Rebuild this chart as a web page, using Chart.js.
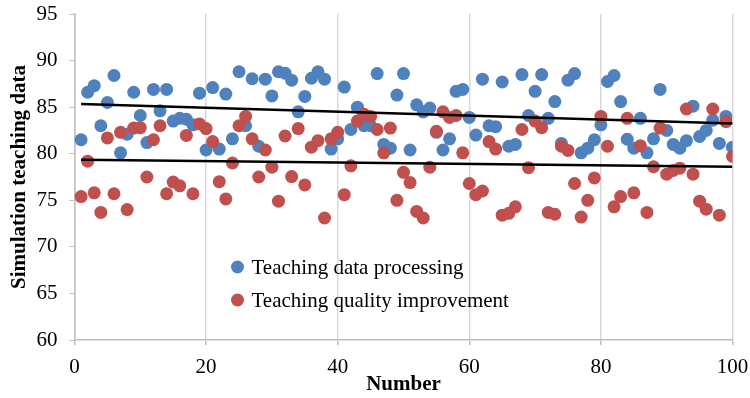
<!DOCTYPE html>
<html>
<head>
<meta charset="utf-8">
<script src="https://cdn.jsdelivr.net/npm/chart.js@4.4.0/dist/chart.umd.min.js"></script>
<style>
html,body{margin:0;padding:0;background:#fff;}
#wrap{width:750px;height:398px;position:relative;}
</style>
</head>
<body>
<div id="wrap"><canvas id="myChart"></canvas></div>
<script>
'use strict';
let seriesNames=['Teaching data processing','Teaching quality improvement'];
let xTicks=[0,20,40,60,80,100];
let yTicks=[60,65,70,75,80,85,90,95];
let dataProcessing=[81.5,86.6,87.3,83.0,85.5,88.4,80.1,82.1,86.6,84.1,
  81.2,86.9,84.6,86.9,83.5,83.8,83.7,83.1,86.5,80.4,
  87.1,80.5,86.4,81.6,88.8,83.0,88.05,80.8,88.0,86.2,
  88.8,88.65,87.9,84.5,86.15,88.1,88.8,88.0,80.5,81.6,
  87.15,82.6,85.0,83.0,83.0,88.6,81.0,80.6,86.3,88.6,
  80.4,85.25,84.5,84.9,82.3,80.4,81.6,86.7,86.9,83.9,
  82.0,88.0,83.0,82.9,87.7,80.8,81.0,88.5,84.1,86.7,
  88.5,83.8,85.6,81.1,87.9,88.6,80.1,80.6,81.5,83.1,
  87.75,88.4,85.6,81.55,80.6,83.8,80.1,81.6,86.9,82.5,
  81.0,80.6,81.4,85.1,81.85,82.5,83.6,81.1,84.0,80.7];
let qualityImprovement=[75.4,79.2,75.8,73.7,81.7,75.7,82.3,74.0,82.75,82.8,
  77.5,81.5,83.0,75.7,76.95,76.55,81.96,75.7,83.2,82.7,
  81.3,77.0,75.15,79.0,83.0,84.0,81.6,77.5,80.4,78.55,
  74.9,81.9,77.55,82.7,76.65,80.7,81.4,73.1,81.6,82.3,
  75.6,78.7,83.5,84.25,84.0,82.6,80.1,82.75,75.0,78.0,
  76.9,73.8,73.1,78.55,82.4,84.5,83.9,84.1,80.1,76.8,
  75.6,76.0,81.3,80.5,73.4,73.6,74.3,82.6,78.5,83.5,
  82.8,73.7,73.5,80.8,80.35,76.8,73.2,75.0,77.4,84.0,
  80.8,74.3,75.4,83.8,75.8,80.85,73.7,78.6,82.75,77.8,
  78.2,78.45,84.8,77.8,74.9,74.05,84.8,73.4,83.45,79.7];
let colors=['#4F81BD','#C0504D'];

function toPoints(values){
  return values.map(function(v,i){ return {x:i+1,y:v}; });
}
// least squares trend line, like excel's linear trendline
function trendLine(values){
  let n=values.length,sx=0,sy=0,sxx=0,sxy=0;
  for(let i=0;i<n;i++){
    let x=i+1;
    sx+=x; sy+=values[i]; sxx+=x*x; sxy+=x*values[i];
  }
  let b=(n*sxy-sx*sy)/(n*sxx-sx*sx);
  let a=(sy-b*sx)/n;
  return [{x:1,y:a+b},{x:n,y:a+b*n}];
}

const serif='"Liberation Serif", "Times New Roman", serif';

const insideLegend={
  id:'insideLegend',
  afterDraw(chart){
    let ctx=chart.ctx;
    let area=chart.chartArea;
    ctx.save();
    ctx.font='21px '+serif;
    ctx.textBaseline='middle';
    seriesNames.forEach(function(name,i){
      let cx=area.left+163;
      let cy=area.top+253+i*33;
      ctx.beginPath();
      ctx.arc(cx,cy,6.5,0,Math.PI*2);
      ctx.fillStyle=colors[i];
      ctx.fill();
      ctx.fillStyle='#000';
      ctx.fillText(name,cx+14,cy+1);
    });
    ctx.restore();
  }
};

new Chart(document.getElementById('myChart'),{
  type:'scatter',
  data:{
    datasets:[{
      label:seriesNames[0],
      data:toPoints(dataProcessing),
      backgroundColor:colors[0],
      borderWidth:0,
      pointRadius:6.5,
      order:2
    },{
      label:seriesNames[1],
      data:toPoints(qualityImprovement),
      backgroundColor:colors[1],
      borderWidth:0,
      pointRadius:6.5,
      order:1
    },{
      type:'line',
      data:trendLine(dataProcessing),
      borderColor:'#000',
      borderWidth:2.5,
      pointRadius:0,
      order:0
    },{
      type:'line',
      data:trendLine(qualityImprovement),
      borderColor:'#000',
      borderWidth:2.5,
      pointRadius:0,
      order:0
    }]
  },
  options:{
    responsive:true,
    maintainAspectRatio:false,
    animation:false,
    layout:{padding:{top:14,right:17.5,left:0,bottom:0}},
    plugins:{legend:{display:false},tooltip:{enabled:false}},
    scales:{
      x:{
        type:'linear',
        min:0,max:100,
        afterBuildTicks:function(scale){ scale.ticks=xTicks.map(function(v){return {value:v};}); },
        afterFit:function(scale){ scale.height=58; scale.paddingLeft=0; scale.paddingRight=0; },
        ticks:{font:{family:serif,size:21},color:'#000',padding:10},
        grid:{color:'#d9d9d9',lineWidth:1.5,tickLength:5,tickColor:'#bfbfbf'},
        border:{color:'#bfbfbf',width:1.5},
        title:{display:true,text:'Number',color:'#000',font:{family:serif,size:21,weight:'bold'},padding:{top:0,bottom:1}}
      },
      y:{
        min:60,max:95,
        afterBuildTicks:function(scale){ scale.ticks=yTicks.map(function(v){return {value:v};}); },
        afterFit:function(scale){ scale.width=74.5; scale.paddingTop=0; scale.paddingBottom=0; },
        ticks:{font:{family:serif,size:21},color:'#000',padding:12},
        grid:{drawOnChartArea:false,tickLength:5,tickColor:'#bfbfbf'},
        border:{color:'#bfbfbf',width:1.5},
        title:{display:true,text:'Simulation teaching data',color:'#000',font:{family:serif,size:21,weight:'bold'},padding:{top:7,bottom:0}}
      }
    }
  },
  plugins:[insideLegend]
});
</script>
</body>
</html>
